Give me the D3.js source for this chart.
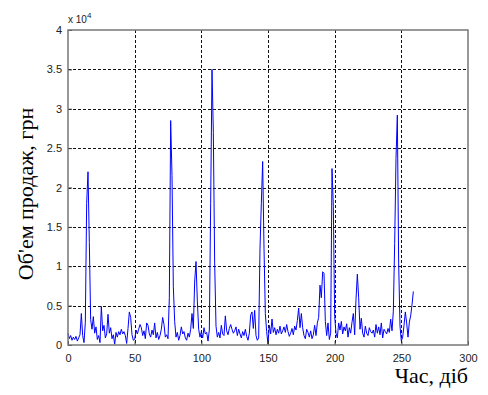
<!DOCTYPE html>
<html>
<head>
<meta charset="utf-8">
<script src="https://cdn.jsdelivr.net/npm/d3@7/dist/d3.min.js"></script>
<style>
  body { margin: 0; background: #ffffff; }
  svg { display: block; }
</style>
</head>
<body>
<div id="chart"></div>
<script>
// daily sales volume, UAH (day = index)
var sales = [
  1500, 800, 1200, 600, 1000, 700, 1100, 500, 900, 1300,
  4000, 1200, 300, 2900, 18000, 22000, 13000, 3200, 2000, 3600,
  1500, 2300, 700, 1200, 300, 4900, 1800, 2500, 900, 1400,
  3900, 1500, 2200, 800, 1300, 100, 1600, 1000, 1700, 1300,
  2000, 1400, 1700, 1200, 200, 2100, 4200, 3500, 1300, 600,
  700, 1900, 1400, 2000, 2600, 2200, 1200, 1800, 800, 2800,
  2500, 1400, 1000, 1900, 1300, 2800, 900, 1600, 700, 1200,
  2000, 3500, 2600, 1000, 1300, 800, 6000, 28500, 21500, 7400,
  3000, 1000, 1600, 600, 1200, 2300, 1400, 1700, 900, 600,
  1500, 1000, 2000, 4000, 2100, 8000, 10600, 5600, 2000, 1000,
  1700, 900, 2200, 1400, 1600, 500, 1900, 18000, 35000, 27000,
  10400, 2400, 1000, 1600, 900, 2500, 1400, 1200, 3700, 1800,
  1300, 2100, 2600, 2000, 1500, 1800, 2300, 1200, 2000, 1400,
  900, 1700, 1200, 2000, 1100, 600, 1500, 3800, 4200, 2100,
  4400, 1200, 600, 900, 12300, 18000, 23300, 12300, 4000, 1700,
  100, 2500, 1400, 3300, 1600, 2200, 1300, 2000, 1500, 2400,
  1400, 1800, 2300, 1600, 2600, 1700, 1100, 1500, 2100, 1300,
  2400, 1900, 3100, 4700, 2200, 4000, 2200, 1200, 800, 2000,
  1600, 1000, 1800, 800, 1300, 2500, 1200, 2800, 3500, 7600,
  6000, 9300, 9100, 3000, 1200, 2800, 700, 1500, 22400, 17600,
  3600, 1500, 900, 2800, 1900, 3000, 1400, 2300, 1800, 2700,
  1000, 2200, 1500, 2900, 4000, 1300, 5800, 9000, 6000, 2000,
  3400, 1500, 1000, 2400, 1500, 1200, 2200, 1700, 1500, 1900,
  1000, 2600, 1500, 2300, 1300, 2800, 900, 2000, 1700, 1400,
  2100, 1600, 3300, 1800, 4300, 12900, 23700, 29200, 10400, 2400,
  500, 1000, 2500, 4200, 2800, 1000, 2900, 3700, 5100, 6800
];

var xTicks = [0, 50, 100, 150, 200, 250, 300];
var yTicks = [0, 5000, 10000, 15000, 20000, 25000, 30000, 35000, 40000];
var yTickLabels = ["0", "0.5", "1", "1.5", "2", "2.5", "3", "3.5", "4"];

var xLabel = "Час, діб";
var yLabel = "Об'ем продаж, грн";

var cfg = {
    w: 488,
    h: 395,
    left: 68, right: 468, top: 30, bottom: 345,
    tickFont: "Liberation Sans, Arial, sans-serif",
    labelFont: "Liberation Serif, Times New Roman, serif"
};

var svg = d3.select("#chart").append("svg")
    .attr("width", cfg.w)
    .attr("height", cfg.h);

var x = d3.scaleLinear().domain([0, 300]).range([cfg.left, cfg.right]);
var y = d3.scaleLinear().domain([0, 40000]).range([cfg.bottom, cfg.top]);

// dotted grid
var grid = svg.append("g").attr("class", "grid")
    .style("stroke", "#111")
    .style("stroke-width", 1)
    .style("stroke-dasharray", "3,2")
    .attr("shape-rendering", "crispEdges");

grid.selectAll(".vgrid")
    .data(xTicks.slice(1, -1))
    .enter().append("line")
    .attr("x1", d => Math.round(x(d)) + 0.5).attr("x2", d => Math.round(x(d)) + 0.5)
    .attr("y1", cfg.top).attr("y2", cfg.bottom);

grid.selectAll(".hgrid")
    .data(yTicks.slice(1, -1))
    .enter().append("line")
    .attr("y1", d => Math.round(y(d)) + 0.5).attr("y2", d => Math.round(y(d)) + 0.5)
    .attr("x1", cfg.left).attr("x2", cfg.right);

// the sales line
var line = d3.line()
    .x((d, i) => x(i))
    .y(d => y(d));

svg.append("path")
    .datum(sales)
    .attr("d", line)
    .style("fill", "none")
    .style("stroke", "#0000ff")
    .style("stroke-width", 1);

// axes (labels only, ticks drawn inward like matlab)
var xAxis = svg.append("g")
    .attr("transform", `translate(0,${cfg.bottom})`)
    .call(d3.axisBottom(x).tickValues(xTicks).tickSizeInner(-4).tickSizeOuter(0).tickPadding(9));

var yAxis = svg.append("g")
    .attr("transform", `translate(${cfg.left},0)`)
    .call(d3.axisLeft(y).tickValues(yTicks).tickSizeInner(-4).tickSizeOuter(0).tickPadding(6)
        .tickFormat((d, i) => yTickLabels[i]));

[xAxis, yAxis].forEach(function(ax) {
    ax.select(".domain").remove();
    ax.selectAll(".tick line").style("stroke", "#333");
    ax.selectAll("text")
        .style("font-family", cfg.tickFont)
        .style("font-size", "11px")
        .style("fill", "#222");
});

// box around the plot
svg.append("rect")
    .attr("x", cfg.left).attr("y", cfg.top)
    .attr("width", cfg.right - cfg.left)
    .attr("height", cfg.bottom - cfg.top)
    .style("fill", "none")
    .style("stroke", "#777")
    .style("stroke-width", 1.5);

// exponent label
var expo = svg.append("text")
    .attr("x", cfg.left)
    .attr("y", 23)
    .style("font-family", cfg.tickFont)
    .style("font-size", "10px")
    .style("fill", "#222");
expo.append("tspan").text("x 10");
expo.append("tspan").attr("dy", -5).style("font-size", "8px").text("4");

// axis titles
svg.append("text")
    .attr("x", cfg.right)
    .attr("y", 383)
    .attr("text-anchor", "end")
    .style("font-family", cfg.labelFont)
    .style("font-size", "22px")
    .style("fill", "#000")
    .text(xLabel);

svg.append("text")
    .attr("transform", "translate(33,194) rotate(-90)")
    .attr("text-anchor", "middle")
    .style("font-family", cfg.labelFont)
    .style("font-size", "22px")
    .style("fill", "#000")
    .text(yLabel);
</script>
</body>
</html>
